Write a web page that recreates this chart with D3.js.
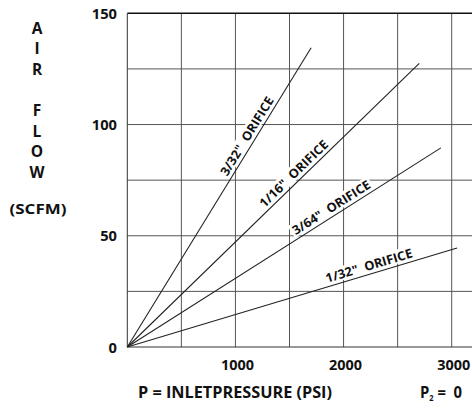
<!DOCTYPE html>
<html>
<head>
<meta charset="utf-8">
<script src="https://cdn.jsdelivr.net/npm/d3@7"></script>
<style>
  html, body { margin: 0; padding: 0; background: #fff; }
  svg { display: block; }
  text { font-family: "Open Sans", "DejaVu Sans", sans-serif; fill: #111; }
</style>
</head>
<body>
<script>
// ---- data ----
const orifices = ["3/32\"  ORIFICE", "1/16\"  ORIFICE", "3/64\"  ORIFICE", "1/32\"  ORIFICE"];
const endPressure = [1700, 2700, 2900, 3050];   // psi at end of each line
const endFlow = [134.5, 127.5, 89.5, 44.5];      // scfm at end of each line
const labelAt = [0.69, 0.59, 0.665, 0.74];        // fraction along line for label
const xTicks = [1000, 2000, 3000];
const yTicks = [0, 50, 100, 150];
const yTitleLetters = ["A", "I", "R", "", "F", "L", "O", "W"];

const W = 472, H = 416;
const svg = d3.select("body").append("svg").attr("width", W).attr("height", H);

const x = d3.scaleLinear().domain([0, 3000]).range([127.3, 451.7]);
const y = d3.scaleLinear().domain([0, 150]).range([347, 13.3]);
const xMax = x.invert(W);

// grid
const g = svg.append("g");
g.selectAll("line.v").data(d3.range(500, xMax, 500)).join("line")
  .attr("x1", d => x(d)).attr("x2", d => x(d))
  .attr("y1", y(150)).attr("y2", y(0))
  .attr("stroke", "#555").attr("stroke-width", 1);
g.selectAll("line.h").data(d3.range(25, 150, 25)).join("line")
  .attr("x1", x(0)).attr("x2", W)
  .attr("y1", d => y(d)).attr("y2", d => y(d))
  .attr("stroke", "#555").attr("stroke-width", 1);
// borders
g.append("line").attr("x1", x(0)).attr("x2", W).attr("y1", y(150)).attr("y2", y(150))
  .attr("stroke", "#111").attr("stroke-width", 1.5);
g.append("line").attr("x1", x(0)).attr("x2", W).attr("y1", y(0)).attr("y2", y(0))
  .attr("stroke", "#333").attr("stroke-width", 1);
g.append("line").attr("x1", x(0)).attr("x2", x(0)).attr("y1", y(150)).attr("y2", y(0))
  .attr("stroke", "#333").attr("stroke-width", 1);

// data lines
const lines = orifices.map((name, i) => ({
  name, pts: [[0, 0], [endPressure[i], endFlow[i]]], t: labelAt[i]
}));
const lineGen = d3.line().x(d => x(d[0])).y(d => y(d[1]));
svg.selectAll("path.flow").data(lines).join("path")
  .attr("d", d => lineGen(d.pts))
  .attr("fill", "none").attr("stroke", "#222").attr("stroke-width", 1.1);

// labels with white background
lines.forEach(d => {
  const x0 = x(0), y0 = y(0), x1 = x(d.pts[1][0]), y1 = y(d.pts[1][1]);
  const ang = Math.atan2(y1 - y0, x1 - x0) * 180 / Math.PI;
  const px = x0 + (x1 - x0) * d.t, py = y0 + (y1 - y0) * d.t;
  const lg = svg.append("g").attr("transform", `translate(${px},${py}) rotate(${ang})`);
  const t = lg.append("text").attr("text-anchor", "middle").attr("y", -4)
    .style("font-size", "12.5px").style("font-weight", 700)
    .attr("xml:space", "preserve").attr("textLength", 90).attr("lengthAdjust", "spacingAndGlyphs")
    .text(d.name);
  const bb = t.node().getBBox();
  lg.insert("rect", "text").attr("x", bb.x - 2).attr("y", bb.y + 1)
    .attr("width", bb.width + 4).attr("height", bb.height - 3).attr("fill", "#fff");
});

// tick labels
svg.selectAll("text.yt").data(yTicks).join("text")
  .attr("x", 117).attr("y", d => y(d) + 5.5)
  .attr("text-anchor", "end")
  .style("font-size", "15px").style("font-weight", 700)
  .attr("textLength", d => String(d).length * 8.4).attr("lengthAdjust", "spacingAndGlyphs")
  .text(d => d);
svg.selectAll("text.xt").data(xTicks).join("text")
  .attr("x", d => x(d) + 2).attr("y", 370)
  .attr("text-anchor", "middle")
  .style("font-size", "15px").style("font-weight", 700)
  .attr("textLength", 33).attr("lengthAdjust", "spacingAndGlyphs")
  .text(d => d);

// y title stacked letters
svg.selectAll("text.yl").data(yTitleLetters).join("text")
  .attr("x", 37).attr("y", (d, i) => 33.5 + i * 20.6)
  .attr("text-anchor", "middle")
  .style("font-size", "15.5px").style("font-weight", 700)
  .text(d => d);
svg.append("text").attr("x", 38).attr("y", 214).attr("text-anchor", "middle")
  .style("font-size", "15px").style("font-weight", 700)
  .attr("textLength", 57).attr("lengthAdjust", "spacingAndGlyphs").text("(SCFM)");

// bottom titles
svg.append("text").attr("x", 235).attr("y", 397.5).attr("text-anchor", "middle")
  .style("font-size", "16px").style("font-weight", 700)
  .attr("textLength", 194).attr("lengthAdjust", "spacingAndGlyphs")
  .text("P = INLETPRESSURE (PSI)");
const p2 = svg.append("text").attr("x", 420).attr("y", 397.5)
  .style("font-size", "16px").style("font-weight", 700).attr("xml:space", "preserve")
  .attr("textLength", 42).attr("lengthAdjust", "spacingAndGlyphs");
p2.append("tspan").text("P");
p2.append("tspan").attr("dy", 3).style("font-size", "8px").text("2");
p2.append("tspan").attr("dy", -3).text(" =  0");
</script>
</body>
</html>
